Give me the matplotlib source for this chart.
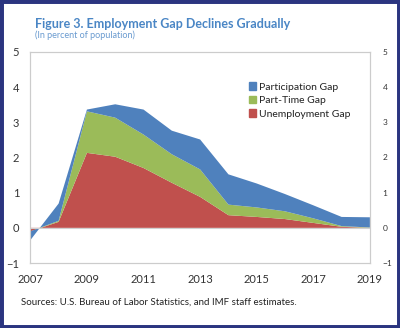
import numpy as np
import matplotlib
matplotlib.use("Agg")
import matplotlib.pyplot as plt
from matplotlib.patches import Rectangle, Patch

# yearly gaps, percent of population
years = np.arange(2007, 2020)
unemployment_gap = [-0.10, 0.17, 2.13, 2.02, 1.70, 1.28, 0.88, 0.36, 0.31, 0.25, 0.14, 0.03, 0.00]
part_time_gap = [0.00, 0.03, 1.18, 1.11, 0.95, 0.81, 0.78, 0.30, 0.27, 0.22, 0.13, 0.02, 0.01]
participation_gap = [-0.25, 0.49, 0.05, 0.38, 0.71, 0.67, 0.85, 0.86, 0.68, 0.49, 0.37, 0.26, 0.29]

labels = ["Unemployment Gap", "Part-Time Gap", "Participation Gap"]
colors = ["#C0504D", "#9BBB59", "#4F81BD"]
xticks = [2007, 2009, 2011, 2013, 2015, 2017, 2019]
yticks = [-1, 0, 1, 2, 3, 4, 5]

plt.rcParams["font.family"] = ["Lato", "DejaVu Sans"]

fig = plt.figure(figsize=(4.0, 3.28), dpi=100)
ax = fig.add_axes([0.0758, 0.198, 0.849, 0.644])

ax.stackplot(years, unemployment_gap, part_time_gap, participation_gap,
             colors=colors, linewidth=0)
ax.axhline(0, color="#d0d0d0", linewidth=0.8, zorder=3)

ax.set_xlim(2007, 2019)
ax.set_ylim(-1, 5)
ax.set_xticks(xticks)
ax.set_yticks(yticks)
ax.tick_params(axis="both", length=0, colors="#333333")
ax.tick_params(axis="y", labelsize=8, pad=8)
ax.tick_params(axis="x", labelsize=8, pad=8)

# right-hand axis repeats the scale in smaller type
ax2 = ax.twinx()
ax2.set_ylim(-1, 5)
ax2.set_yticks(yticks)
ax2.tick_params(axis="y", length=0, labelsize=6, pad=9, colors="#333333")

for a in (ax, ax2):
    for s in a.spines.values():
        s.set_color("#cccccc")
        s.set_linewidth(0.8)

handles = [Patch(color=c) for c in colors[::-1]]
leg = ax.legend(handles, labels[::-1], loc="upper left", bbox_to_anchor=(0.615, 0.90),
                frameon=False, fontsize=7.5, handlelength=0.7, handleheight=0.7,
                handletextpad=0.3, labelspacing=0.4)
for t in leg.get_texts():
    t.set_color("#222222")

fig.text(0.088, 0.928, "Figure 3. Employment Gap Declines Gradually",
         fontsize=9, fontweight="bold", color="#4A86C5", va="center")
fig.text(0.088, 0.892, "(In percent of population)",
         fontsize=6.5, color="#6A9BD0", va="center")
fig.text(0.053, 0.078, "Sources: U.S. Bureau of Labor Statistics, and IMF staff estimates.",
         fontsize=7, color="#222222", va="center")

# navy frame around the whole figure
fig.patches.append(Rectangle((0, 0), 1, 1, transform=fig.transFigure,
                             fill=False, edgecolor="#2B3580", linewidth=5))

fig.savefig("out.png", dpi=100)
